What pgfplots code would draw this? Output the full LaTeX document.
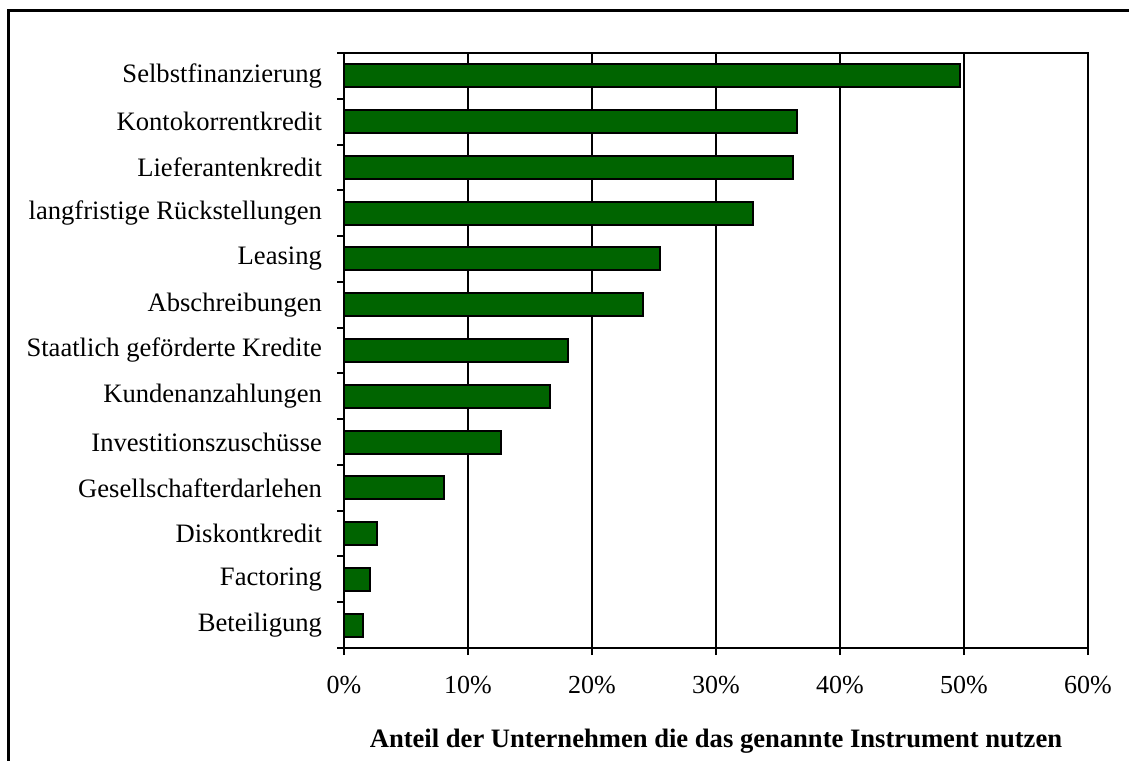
\documentclass[border=0pt]{standalone}
\usepackage{fontspec}
\setmainfont{Liberation Serif}
\usepackage{pgfplots}
\pgfplotsset{compat=1.18}
\definecolor{barg}{RGB}{0,100,0}
\begin{document}
\fontsize{13pt}{15pt}\selectfont
\begin{tikzpicture}
\path[use as bounding box] (0,0) rectangle (564.5pt,380pt);
\draw[line width=1.5pt] (4pt,-20pt) -- (4pt,374.5pt) -- (600pt,374.5pt);
\begin{axis}[
 at={(172pt,56pt)}, anchor=south west,
 scale only axis, width=372pt, height=297.5pt,
 xbar, bar width=11.5pt,
 xmin=0, xmax=60, ymin=-0.5, ymax=12.5,
 xtick={0,10,...,60}, xticklabels={0\%,10\%,20\%,30\%,40\%,50\%,60\%},
 ytick={0,...,12},
 yticklabels={Beteiligung,Factoring,Diskontkredit,Gesellschafterdarlehen,Investitionszuschüsse,Kundenanzahlungen,Staatlich geförderte Kredite,Abschreibungen,Leasing,langfristige Rückstellungen,Lieferantenkredit,Kontokorrentkredit,Selbstfinanzierung},
 minor ytick={-0.5,0.5,...,12.5},
 xtick pos=bottom, ytick pos=left,
 tick align=outside, major tick length=3.5pt, minor tick length=3.5pt,
 every major y tick/.append style={draw=none},
 every minor y tick/.append style={black, line width=1pt},
 every major x tick/.append style={black, line width=1pt},
 xmajorgrids, major grid style={black, line width=0.8pt},
 axis line style={line width=1pt},
 xticklabel style={font=\fontsize{13pt}{15pt}\selectfont, yshift=-6pt},
 yticklabel style={font=\fontsize{13.3pt}{15pt}\selectfont, xshift=-3pt},
]
\addplot[fill=barg, draw=black, line width=1pt] coordinates {
 (1.5,0) (2.1,1) (2.7,2) (8.1,3) (12.7,4) (16.6,5) (18.1,6)
 (24.1,7) (25.5,8) (33.0,9) (36.2,10) (36.5,11) (49.7,12)
};
\end{axis}
\node[anchor=base, font=\bfseries\fontsize{13.3pt}{15pt}\selectfont] at (358pt,6pt) {Anteil der Unternehmen die das genannte Instrument nutzen};
\end{tikzpicture}
\end{document}
